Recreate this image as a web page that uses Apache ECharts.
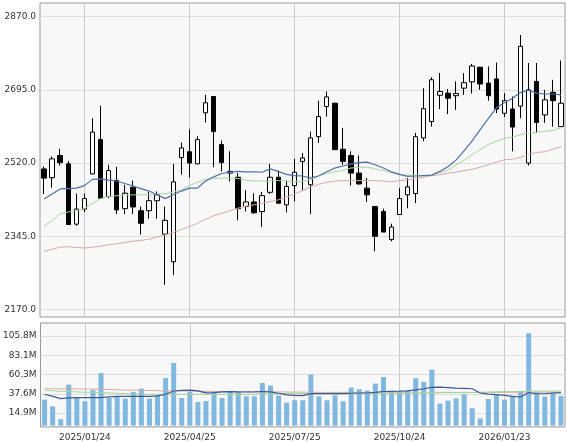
<!DOCTYPE html>
<html><head><meta charset="utf-8">
<script src="https://cdn.jsdelivr.net/npm/echarts@6/dist/echarts.min.js"></script>
<style>html,body{margin:0;padding:0;background:#fff}#c{width:567px;height:442px}</style>
</head><body><div id="c"></div>
<script>
const dates = ["2024/12/20","2024/12/27","2025/01/03","2025/01/10","2025/01/17","2025/01/24","2025/01/31","2025/02/07","2025/02/14","2025/02/21","2025/02/28","2025/03/07","2025/03/14","2025/03/21","2025/03/28","2025/04/04","2025/04/11","2025/04/18","2025/04/25","2025/05/02","2025/05/09","2025/05/16","2025/05/23","2025/05/30","2025/06/06","2025/06/13","2025/06/20","2025/06/27","2025/07/04","2025/07/11","2025/07/18","2025/07/25","2025/08/01","2025/08/08","2025/08/15","2025/08/22","2025/08/29","2025/09/05","2025/09/12","2025/09/19","2025/09/26","2025/10/03","2025/10/10","2025/10/17","2025/10/24","2025/10/31","2025/11/07","2025/11/14","2025/11/21","2025/11/28","2025/12/05","2025/12/12","2025/12/19","2025/12/26","2026/01/02","2026/01/09","2026/01/16","2026/01/23","2026/01/30","2026/02/06","2026/02/13","2026/02/20","2026/02/27","2026/03/06","2026/03/13"];
const opens  = [2506,2485,2538,2518,2374,2410,2494,2576,2440,2478,2411,2462,2406,2406,2430,2350,2284,2533,2547,2518,2640,2679,2564,2496,2486,2416,2427,2404,2450,2486,2420,2466,2524,2468,2583,2655,2663,2553,2538,2496,2460,2416,2404,2337,2397,2444,2447,2580,2619,2682,2687,2681,2699,2714,2749,2711,2721,2639,2649,2656,2520,2715,2635,2689,2607];
const closes = [2484,2530,2521,2373,2410,2435,2594,2436,2502,2408,2448,2415,2376,2430,2444,2383,2475,2556,2520,2576,2664,2595,2521,2500,2411,2427,2401,2442,2486,2424,2464,2498,2532,2580,2631,2678,2552,2524,2496,2470,2444,2345,2355,2367,2435,2463,2583,2650,2719,2691,2675,2686,2712,2752,2709,2681,2649,2669,2606,2799,2695,2617,2671,2669,2663];
const lows   = [2446,2461,2514,2372,2370,2403,2493,2436,2436,2398,2398,2398,2349,2387,2387,2229,2252,2492,2485,2517,2617,2510,2500,2476,2383,2404,2399,2367,2446,2424,2402,2428,2455,2398,2568,2631,2551,2516,2466,2468,2427,2309,2355,2333,2396,2412,2424,2572,2607,2649,2637,2647,2683,2686,2695,2669,2639,2630,2548,2627,2514,2592,2616,2607,2607];
const highs  = [2512,2536,2554,2525,2447,2447,2627,2657,2516,2511,2468,2478,2416,2451,2452,2416,2518,2569,2601,2584,2683,2680,2574,2548,2496,2455,2448,2451,2518,2502,2478,2530,2544,2595,2669,2691,2664,2604,2548,2538,2484,2416,2411,2375,2460,2484,2592,2699,2725,2735,2697,2715,2735,2757,2750,2751,2760,2687,2679,2826,2759,2759,2695,2719,2765];
const ma13 = [2434,2446,2458,2459,2460,2466,2481,2482,2479,2477,2471,2465,2459,2453,2444,2435,2444,2453,2460,2460,2477,2487,2495,2498,2500,2499,2499,2498,2506,2500,2493,2490,2489,2484,2489,2499,2508,2513,2518,2521,2522,2516,2508,2499,2493,2488,2489,2490,2491,2500,2511,2527,2549,2573,2600,2626,2652,2664,2675,2689,2694,2687,2685,2685,2683];
const ma26 = [2370,2382,2399,2403,2406,2411,2424,2435,2440,2442,2444,2444,2444,2444,2446,2447,2450,2456,2466,2474,2481,2483,2484,2484,2483,2479,2477,2477,2477,2478,2477,2475,2477,2480,2490,2495,2499,2503,2508,2510,2510,2506,2502,2497,2493,2491,2490,2490,2491,2497,2503,2516,2526,2540,2552,2564,2572,2579,2582,2588,2591,2594,2596,2598,2604];
const ma52 = [2309,2314,2319,2320,2318,2317,2319,2321,2325,2327,2330,2333,2335,2338,2343,2348,2354,2361,2368,2376,2385,2394,2400,2406,2412,2417,2420,2424,2428,2432,2438,2446,2454,2463,2469,2474,2477,2478,2478,2478,2478,2478,2477,2475,2478,2480,2484,2486,2490,2492,2496,2498,2502,2505,2510,2516,2522,2528,2529,2534,2541,2545,2547,2553,2559];
const volumes = [30.7,22.8,7.5,48.4,33.8,28.7,41.7,62.1,32.6,33.8,31.9,39.7,43.7,31.9,35.8,56.2,73.9,32.6,39.7,27.9,29.1,40.5,32.6,40.5,40.5,34.6,34.6,50.3,47.2,35.4,27.2,29.9,29.9,60.2,34.6,29.9,35.8,28.7,44.9,42.9,41.3,49.6,57.4,40.5,40.5,41.7,55.9,51.5,66.1,26.0,29.5,32.3,37.0,20.5,8.6,31.4,36.2,30.7,34.6,40.5,109.0,39.3,34.3,39.7,35.0];
const vma13 = [37.0,34.6,31.9,32.8,33.1,33.1,33.1,33.1,34.0,34.6,34.6,34.6,34.6,34.6,35.2,37.0,40.9,41.7,42.0,41.1,38.7,39.0,39.9,40.2,39.9,39.7,39.9,40.3,39.9,38.2,36.4,35.8,35.4,37.8,37.8,37.8,37.8,37.8,38.2,38.5,38.5,39.3,40.3,40.5,40.7,41.1,42.3,43.5,45.2,45.5,44.9,44.3,44.0,43.5,38.5,37.2,36.6,35.8,34.6,33.8,39.0,37.6,37.6,38.5,39.0];
const vma26 = [41.7,41.2,40.6,40.2,39.8,39.4,39.2,39.0,38.6,38.2,37.8,37.4,37.1,37.0,37.0,37.0,37.0,37.0,37.0,37.0,37.0,37.0,37.0,37.0,37.0,37.0,37.1,37.4,37.6,37.8,37.8,37.8,37.8,37.8,37.9,38.1,38.4,38.5,38.5,38.5,38.5,38.5,38.5,38.5,38.6,38.8,39.0,39.0,39.0,39.0,39.0,39.0,39.0,39.0,39.2,39.6,40.0,40.2,40.2,40.3,40.5,40.9,40.9,40.9,40.9];
const vma52 = [43.7,43.6,43.5,43.4,43.3,43.2,43.0,42.9,42.6,42.3,42.0,41.7,41.6,41.4,41.3,41.1,41.0,40.9,40.8,40.6,40.5,40.4,40.3,40.2,40.2,40.1,40.0,39.9,39.9,39.8,39.7,39.6,39.5,39.4,39.3,39.2,39.2,39.2,39.2,39.2,39.2,39.2,39.2,39.2,39.2,39.2,39.2,39.2,39.2,39.2,39.2,39.2,39.2,39.2,39.2,39.2,39.2,39.3,39.3,39.4,39.4,39.5,39.5,39.5,39.6];
const priceTicks = [2170,2345,2520,2695,2870];
const volTicks = [14.9,37.6,60.3,83.1,105.8];
const dateTickIdx = [5,18,31,44,57];

const FONT = 'DejaVu Sans';
const gridLine = {show:true, lineStyle:{color:'#dddddd', width:1}};
const vGridLine = {color:'#cccccc', width:1};
const isTick = (i)=>dateTickIdx.indexOf(i)>=0;
const chart = echarts.init(document.getElementById('c'), null, {renderer:'canvas'});
chart.setOption({
  animation:false,
  backgroundColor:'#ffffff',
  grid:[
    {left:40, right:2, top:3, height:314, show:true, backgroundColor:'#f8f8f8', borderColor:'#999999', borderWidth:1},
    {left:40, right:2, top:323, height:104, show:true, backgroundColor:'#f8f8f8', borderColor:'#999999', borderWidth:1}
  ],
  xAxis:[
    {type:'category', gridIndex:0, data:dates, boundaryGap:true, axisLine:{show:false},
      axisTick:{show:false, interval:isTick, alignWithLabel:true}, axisLabel:{show:false, interval:isTick},
      splitLine:{show:true, interval:isTick, alignWithLabel:true, lineStyle:vGridLine}},
    {type:'category', gridIndex:1, data:dates, boundaryGap:true, axisLine:{show:false},
      axisTick:{show:false, interval:isTick, alignWithLabel:true},
      axisLabel:{interval:isTick, fontFamily:FONT, fontSize:9, color:'#333', margin:6},
      splitLine:{show:true, interval:isTick, alignWithLabel:true, lineStyle:vGridLine}}
  ],
  yAxis:[
    {type:'value', gridIndex:0, min:2152, max:2902.5, axisLine:{show:false},
      axisTick:{show:false, customValues:priceTicks},
      axisLabel:{customValues:priceTicks, formatter:(v)=>Number(v).toFixed(1), fontFamily:FONT, fontSize:9, color:'#333', margin:4},
      splitLine:gridLine},
    {type:'value', gridIndex:1, min:-1.6, max:121.1, axisLine:{show:false},
      axisTick:{show:false, customValues:volTicks},
      axisLabel:{customValues:volTicks, formatter:(v)=>Number(v).toFixed(1)+'M', fontFamily:FONT, fontSize:9, color:'#333', margin:4},
      splitLine:gridLine}
  ],
  series:[
    {type:'candlestick', xAxisIndex:0, yAxisIndex:0, barWidth:5,
      data:dates.map((d,i)=>[opens[i],closes[i],lows[i],highs[i]]),
      itemStyle:{color:'#ffffff', color0:'#000000', borderColor:'#000000', borderColor0:'#000000', borderWidth:1}},
    {type:'line', xAxisIndex:0, yAxisIndex:0, data:ma52, symbol:'none', z:3, lineStyle:{color:'#d9a9a9', width:1}},
    {type:'line', xAxisIndex:0, yAxisIndex:0, data:ma26, symbol:'none', z:3, lineStyle:{color:'#a9d6a2', width:1}},
    {type:'line', xAxisIndex:0, yAxisIndex:0, data:ma13, symbol:'none', z:4, lineStyle:{color:'#4f6fa8', width:1.2}},
    {type:'bar', xAxisIndex:1, yAxisIndex:1, data:volumes, barWidth:5, itemStyle:{color:'#80b8df'}},
    {type:'line', xAxisIndex:1, yAxisIndex:1, data:vma52, symbol:'none', z:3, lineStyle:{color:'#d9a9a9', width:1}},
    {type:'line', xAxisIndex:1, yAxisIndex:1, data:vma26, symbol:'none', z:3, lineStyle:{color:'#9fd699', width:1}},
    {type:'line', xAxisIndex:1, yAxisIndex:1, data:vma13, symbol:'none', z:4, lineStyle:{color:'#3b5896', width:1.2}}
  ]
});
</script></body></html>
